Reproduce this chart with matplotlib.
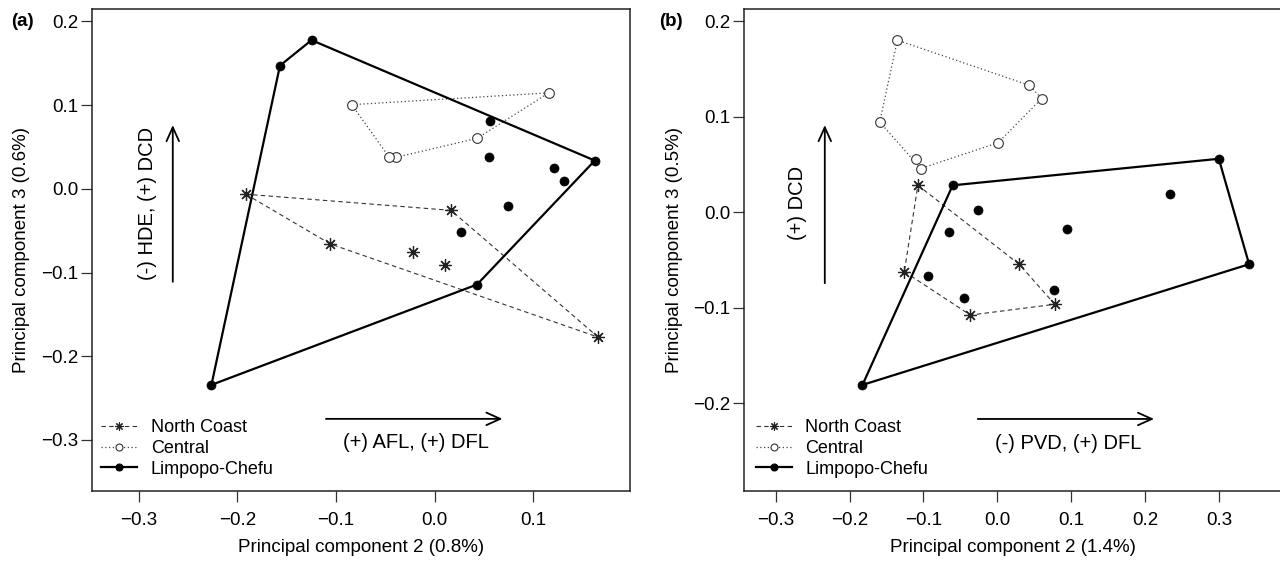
import matplotlib
matplotlib.use('Agg')
import matplotlib.pyplot as plt
from matplotlib.lines import Line2D
from matplotlib.ticker import FuncFormatter, FixedLocator
import numpy as np

plt.rcParams['font.family'] = ['Liberation Sans', 'DejaVu Sans']

# ---------------- data: panel (a) ----------------
a_nc_x = [-0.1915, 0.0166, 0.1657, -0.1057, -0.0216, 0.0104]
a_nc_y = [-0.0064, -0.0257, -0.1772, -0.0659, -0.0749, -0.0912]
a_ce_x = [-0.0841, 0.1157, 0.0429, -0.0391, -0.0466]
a_ce_y = [0.1006, 0.1147, 0.0604, 0.0377, 0.0385]
a_lc_x = [-0.1249, -0.1569, 0.1623, 0.0429, -0.2264, 0.0562, 0.0554, 0.1207, 0.1311, 0.0741, 0.0262]
a_lc_y = [0.1777, 0.1473, 0.0338, -0.1143, -0.2342, 0.0809, 0.0385, 0.0253, 0.0094, -0.0210, -0.0518]

# ---------------- data: panel (b) ----------------
b_nc_x = [-0.1076, 0.0294, 0.0776, -0.0366, -0.1259]
b_nc_y = [0.0282, -0.0545, -0.0965, -0.1078, -0.0623]
b_ce_x = [-0.1353, 0.0433, 0.0599, 0.0011, -0.1037, -0.1098, -0.1592]
b_ce_y = [0.1803, 0.1330, 0.1191, 0.0729, 0.0458, 0.0563, 0.0946]
b_lc_x = [-0.0605, 0.2995, 0.3405, -0.1825, -0.0261, -0.0654, 0.0943, 0.2329, -0.0943, -0.0449, 0.0760]
b_lc_y = [0.0282, 0.0560, -0.0545, -0.1810, 0.0023, -0.0207, -0.0177, 0.0188, -0.0669, -0.0901, -0.0819]

group_names = ['North Coast', 'Central', 'Limpopo-Chefu']
a_xlabel = 'Principal component 2 (0.8%)'
a_ylabel = 'Principal component 3 (0.6%)'
b_xlabel = 'Principal component 2 (1.4%)'
b_ylabel = 'Principal component 3 (0.5%)'
a_xticks = [-0.3, -0.2, -0.1, 0.0, 0.1]
a_yticks = [-0.3, -0.2, -0.1, 0.0, 0.1, 0.2]
b_xticks = [-0.3, -0.2, -0.1, 0.0, 0.1, 0.2, 0.3]
b_yticks = [-0.2, -0.1, 0.0, 0.1, 0.2]
a_vlabel = '(-) HDE, (+) DCD'
a_hlabel = '(+) AFL, (+) DFL'
b_vlabel = '(+) DCD'
b_hlabel = '(-) PVD, (+) DFL'


def hull(xs, ys):
    pts = sorted(set(zip(xs, ys)))
    def cross(o, a, b):
        return (a[0]-o[0])*(b[1]-o[1]) - (a[1]-o[1])*(b[0]-o[0])
    lower, upper = [], []
    for p in pts:
        while len(lower) >= 2 and cross(lower[-2], lower[-1], p) <= 0:
            lower.pop()
        lower.append(p)
    for p in reversed(pts):
        while len(upper) >= 2 and cross(upper[-2], upper[-1], p) <= 0:
            upper.pop()
        upper.append(p)
    h = lower[:-1] + upper[:-1]
    h.append(h[0])
    return [p[0] for p in h], [p[1] for p in h]


def fmt(v, p):
    v = round(v, 1)
    if v == 0:
        v = 0.0
    return f'{v:.1f}'.replace('-', '\u2212')


STAR = (8, 2, 0)
styles = {
    'nc': dict(ls=(0, (4, 3)), lw=0.8, marker=STAR, ms=9, mfc='none', mec='#222222', mew=0.9, color='#333333'),
    'ce': dict(ls=(0, (1, 2)), lw=0.9, marker='o', ms=7, mfc='white', mec='#333333', mew=0.8, color='#444444'),
    'lc': dict(ls='-', lw=1.6, marker='o', ms=6.5, mfc='black', mec='black', mew=0.5, color='black'),
}

TICK_FS = 13.5
LAB_FS = 13.5
ARR_FS = 14.5
LEG_FS = 13


def draw_group(ax, xs, ys, key):
    st = styles[key]
    hx, hy = hull(xs, ys)
    ax.plot(hx, hy, ls=st['ls'], lw=st['lw'], color=st['color'], zorder=2)
    ax.plot(xs, ys, ls='none', marker=st['marker'], ms=st['ms'], mfc=st['mfc'],
            mec=st['mec'], mew=st['mew'], zorder=3)


def setup(ax, xlim, ylim, xticks, yticks, xlabel, ylabel, ylab_x):
    ax.set_xlim(*xlim)
    ax.set_ylim(*ylim)
    ax.xaxis.set_major_locator(FixedLocator(xticks))
    ax.yaxis.set_major_locator(FixedLocator(yticks))
    ax.xaxis.set_major_formatter(FuncFormatter(fmt))
    ax.yaxis.set_major_formatter(FuncFormatter(fmt))
    ax.tick_params(axis='both', direction='out', length=8, width=0.9, color='#333333', labelsize=TICK_FS)
    ax.tick_params(axis='x', pad=7)
    ax.tick_params(axis='y', pad=2)
    for s in ax.spines.values():
        s.set_linewidth(1.1)
        s.set_color('#222222')
    ax.set_xlabel(xlabel, fontsize=LAB_FS)
    ax.set_ylabel(ylabel, fontsize=LAB_FS)
    ax.xaxis.set_label_coords(0.5, -0.099)
    ax.yaxis.set_label_coords(ylab_x, 0.5)


def legend(ax, x0):
    handles = []
    for key, name in zip(['nc', 'ce', 'lc'], group_names):
        st = styles[key]
        ms = {'nc': 6, 'ce': 5, 'lc': 5}[key]
        handles.append(Line2D([0], [0], ls=st['ls'], lw=st['lw'], color=st['color'],
                              marker=st['marker'], ms=ms, mfc=st['mfc'], mec=st['mec'], mew=0.8))
    ax.legend(handles, group_names, loc='lower left', bbox_to_anchor=(x0, 0.028),
              frameon=False, fontsize=LEG_FS, handlelength=2.0, handletextpad=0.75,
              labelspacing=0.2, borderaxespad=0, borderpad=0)


def arrow(ax, x0, y0, x1, y1):
    ax.annotate('', xy=(x1, y1), xytext=(x0, y0),
                arrowprops=dict(arrowstyle='->,head_length=1.0,head_width=0.45', lw=1.3, color='black',
                                shrinkA=0, shrinkB=0))


fig = plt.figure(figsize=(12.8, 5.61), dpi=100)
W, H = 1280, 561
axa = fig.add_axes([92 / W, 1 - 491 / H, 538 / W, 482 / H])
axb = fig.add_axes([744 / W, 1 - 491 / H, 538 / W, 482 / H])

# panel a
draw_group(axa, a_nc_x, a_nc_y, 'nc')
draw_group(axa, a_ce_x, a_ce_y, 'ce')
draw_group(axa, a_lc_x, a_lc_y, 'lc')
setup(axa, (-0.3475, 0.198), (-0.361, 0.2149), a_xticks, a_yticks, a_xlabel, a_ylabel, -0.115)
legend(axa, 0.017)
arrow(axa, -0.2656, -0.111, -0.2656, 0.0762)
arrow(axa, -0.1103, -0.2748, 0.0687, -0.2748)
axa.text(-0.291, -0.017, a_vlabel, rotation=90, ha='center', va='center', fontsize=ARR_FS)
axa.text(-0.0187, -0.303, a_hlabel, ha='center', va='center', fontsize=ARR_FS)

# panel b
draw_group(axb, b_nc_x, b_nc_y, 'nc')
draw_group(axb, b_ce_x, b_ce_y, 'ce')
draw_group(axb, b_lc_x, b_lc_y, 'lc')
setup(axb, (-0.3428, 0.385), (-0.2922, 0.2130), b_xticks, b_yticks, b_xlabel, b_ylabel, -0.113)
legend(axb, 0.022)
arrow(axb, -0.2335, -0.0744, -0.2335, 0.0913)
arrow(axb, -0.0266, -0.2167, 0.2119, -0.2167)
axb.text(-0.2707, 0.0101, b_vlabel, rotation=90, ha='center', va='center', fontsize=ARR_FS)
axb.text(0.0954, -0.2423, b_hlabel, ha='center', va='center', fontsize=ARR_FS)

fig.text(11 / W, 1 - 22 / H, '(a)', fontweight='bold', fontsize=13.5, ha='left', va='center')
fig.text(659 / W, 1 - 22 / H, '(b)', fontweight='bold', fontsize=13.5, ha='left', va='center')

fig.savefig('out.png', dpi=100)
